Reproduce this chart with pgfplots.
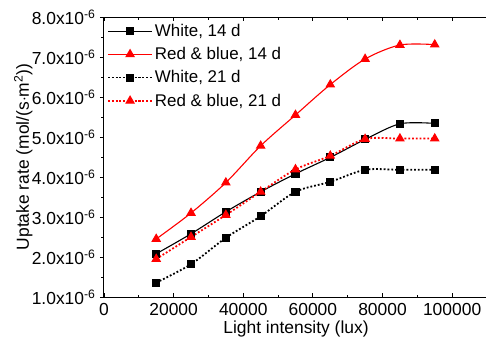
\documentclass[border=0pt]{standalone}
\usepackage{fontspec}
\setmainfont{Liberation Sans}
\usepackage{pgfplots}
\pgfplotsset{compat=1.18}
\begin{document}
\begin{tikzpicture}
\begin{axis}[
  name=ax,
  scale only axis,
  width=384bp, height=280bp,
  xmin=0, xmax=110300,
  ymin=1, ymax=8,
  scaled x ticks=false,
  xtick={0,20000,40000,60000,80000,100000},
  xticklabels={0,20000,40000,60000,80000,100000},
  ytick={1,2,3,4,5,6,7,8},
  yticklabels={1.0x10\textsuperscript{-6},2.0x10\textsuperscript{-6},3.0x10\textsuperscript{-6},4.0x10\textsuperscript{-6},5.0x10\textsuperscript{-6},6.0x10\textsuperscript{-6},7.0x10\textsuperscript{-6},8.0x10\textsuperscript{-6}},
  minor x tick num=1, minor y tick num=1,
  xtick align=inside, ytick align=outside,
  major tick length=4bp, minor tick length=2.5bp,
  xtick pos=both, ytick pos=left,
  tick style={black, line width=0.8bp},
  axis line style={line width=1bp},
  font=\fontsize{17.5}{20}\selectfont,
  xlabel={Light intensity (lux)},
  ylabel={Uptake rate (mol/(s$\cdot$m\textsuperscript{2}))},
  every axis y label/.style={at={(axis description cs:-0.21,0.5)},rotate=90,anchor=center},
  every axis x label/.style={at={(axis description cs:0.5,0)},anchor=center,yshift=-32bp},
  xticklabel style={yshift=-3bp},
  yticklabel style={xshift=-1bp},
  legend cell align=left,
  legend style={draw=none, fill=none, at={(0,1)}, anchor=north west, xshift=0bp, yshift=-3bp,
    font=\fontsize{17}{19}\selectfont, row sep=5.5bp},
  legend image code/.code={\draw[#1, mark repeat=2, mark phase=2] plot coordinates {(0bp,0bp) (22bp,0bp) (44bp,0bp)};},
  every axis plot/.append style={line width=1.1bp},
]
\addplot[black, smooth, mark=square*, mark size=3.5bp, mark options={solid}] coordinates {
(15000,2.08) (25000,2.58) (35000,3.13) (45000,3.63) (55000,4.08) (65000,4.49) (75000,4.94) (85000,5.33) (95000,5.34)};
\addlegendentry{White, 14 d}
\addplot[red, smooth, mark=triangle*, mark size=4.6bp, mark options={solid}] coordinates {
(15000,2.45) (25000,3.10) (35000,3.86) (45000,4.78) (55000,5.55) (65000,6.31) (75000,6.95) (85000,7.30) (95000,7.31)};
\addlegendentry{Red \& blue, 14 d}
\addplot[black, smooth, line width=1.8bp, dash pattern=on 1.8bp off 2bp, mark=square*, mark size=3.5bp, mark options={solid, line width=1.1bp}] coordinates {
(15000,1.36) (25000,1.82) (35000,2.48) (45000,3.02) (55000,3.63) (65000,3.88) (75000,4.18) (85000,4.18) (95000,4.18)};
\addlegendentry{White, 21 d}
\addplot[red, smooth, line width=1.8bp, dash pattern=on 1.8bp off 2bp, mark=triangle*, mark size=4.6bp, mark options={solid, line width=1.1bp}] coordinates {
(15000,1.95) (25000,2.50) (35000,3.05) (45000,3.63) (55000,4.19) (65000,4.53) (75000,4.95) (85000,4.96) (95000,4.96)};
\addlegendentry{Red \& blue, 21 d}
\end{axis}
\pgfresetboundingbox
\path[use as bounding box] ([xshift=-104bp,yshift=-48bp]ax.south west) rectangle ([xshift=382bp,yshift=297bp]ax.south west);
\end{tikzpicture}
\end{document}
